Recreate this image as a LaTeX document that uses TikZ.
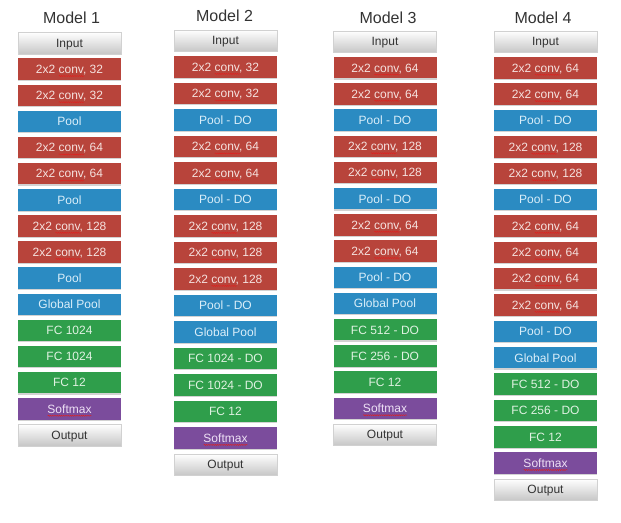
\documentclass[tikz,border=0pt]{standalone}
\usepackage{fontspec}
\setmainfont{Liberation Sans}
\usetikzlibrary{shadows,decorations.pathmorphing}
\definecolor{cred}{HTML}{B8443B}
\definecolor{credt}{HTML}{F5E2DF}
\definecolor{cblue}{HTML}{2B8BC2}
\definecolor{cbluet}{HTML}{DAEEF9}
\definecolor{cgreen}{HTML}{2F9E4B}
\definecolor{cgreent}{HTML}{E0F2E2}
\definecolor{cpurple}{HTML}{7B4C9C}
\definecolor{cpurplet}{HTML}{EEE0F5}
\definecolor{ctitle}{HTML}{333333}
\definecolor{csq}{HTML}{E0201E}
\newlength\sqw
\newcommand\sq[1]{\settowidth{\sqw}{#1}\leavevmode\rlap{\smash{\tikz[baseline=0pt]\draw[csq, line width=0.45pt, decorate, decoration={snake, amplitude=0.55pt, segment length=2.2pt}] (0pt,-2.6pt) -- (\the\sqw,-2.6pt);}}#1}
\newcommand\cvt[1]{2x2 \sq{conv}, #1}
\tikzset{
  layer/.style={minimum width=103pt, minimum height=21.5pt, inner sep=0pt,
    text height=9.6pt, text depth=1pt,
    font=\fontsize{12}{14}\selectfont,
    drop shadow={shadow xshift=0.4pt, shadow yshift=-1.1pt, opacity=0.25, fill=black!70}},
  Lio/.style={layer, top color=white, bottom color=black!22, draw=black!18, line width=0.4pt, text=ctitle},
  Lcv/.style={layer, fill=cred, text=credt},
  Lpl/.style={layer, fill=cblue, text=cbluet},
  Lfc/.style={layer, fill=cgreen, text=cgreent},
  Lsm/.style={layer, fill=cpurple, text=cpurplet},
  title/.style={font=\fontsize{16}{18}\selectfont, text=ctitle, inner sep=0pt}
}
\begin{document}
\begin{tikzpicture}[x=1pt, y=-1pt]
\useasboundingbox (0,0) rectangle (621,522);
% titles
\node[title] (t1) at (71.5,18) {Model 1};
\node[title] (t2) at (224.5,16) {Model 2};
\node[title] (t3) at (388,18) {Model 3};
\node[title] (t4) at (543,18) {Model 4};
% Model 1
\foreach \t/\s [count=\i from 0] in {io/Input, cv/\cvt{32}, cv/\cvt{32}, pl/Pool,
    cv/\cvt{64}, cv/\cvt{64}, pl/Pool, cv/\cvt{128}, cv/\cvt{128}, pl/Pool,
    pl/Global Pool, fc/FC 1024, fc/FC 1024, fc/FC 12, sm/\sq{Softmax}, io/Output}
  \node[L\t] (a\i) at (69.5, 43+26.13*\i) {\s};
% Model 2
\foreach \t/\s [count=\i from 0] in {io/Input, cv/\cvt{32}, cv/\cvt{32}, pl/Pool - DO,
    cv/\cvt{64}, cv/\cvt{64}, pl/Pool - DO, cv/\cvt{128}, cv/\cvt{128}, cv/\cvt{128},
    pl/Pool - DO, pl/Global Pool, fc/FC 1024 - DO, fc/FC 1024 - DO, fc/FC 12,
    sm/\sq{Softmax}, io/Output}
  \node[L\t] (b\i) at (225.5, 40.5+26.5*\i) {\s};
% Model 3
\foreach \t/\s [count=\i from 0] in {io/Input, cv/\cvt{64}, cv/\cvt{64}, pl/Pool - DO,
    cv/\cvt{128}, cv/\cvt{128}, pl/Pool - DO, cv/\cvt{64}, cv/\cvt{64}, pl/Pool - DO,
    pl/Global Pool, fc/FC 512 - DO, fc/FC 256 - DO, fc/FC 12, sm/\sq{Softmax}, io/Output}
  \node[L\t] (c\i) at (385, 41.5+26.2*\i) {\s};
% Model 4
\foreach \t/\s [count=\i from 0] in {io/Input, cv/\cvt{64}, cv/\cvt{64}, pl/Pool - DO,
    cv/\cvt{128}, cv/\cvt{128}, pl/Pool - DO, cv/\cvt{64}, cv/\cvt{64}, cv/\cvt{64},
    cv/\cvt{64}, pl/Pool - DO, pl/Global Pool, fc/FC 512 - DO, fc/FC 256 - DO,
    fc/FC 12, sm/\sq{Softmax}, io/Output}
  \node[L\t] (d\i) at (545.5, 41.5+26.35*\i) {\s};
\end{tikzpicture}
\end{document}
